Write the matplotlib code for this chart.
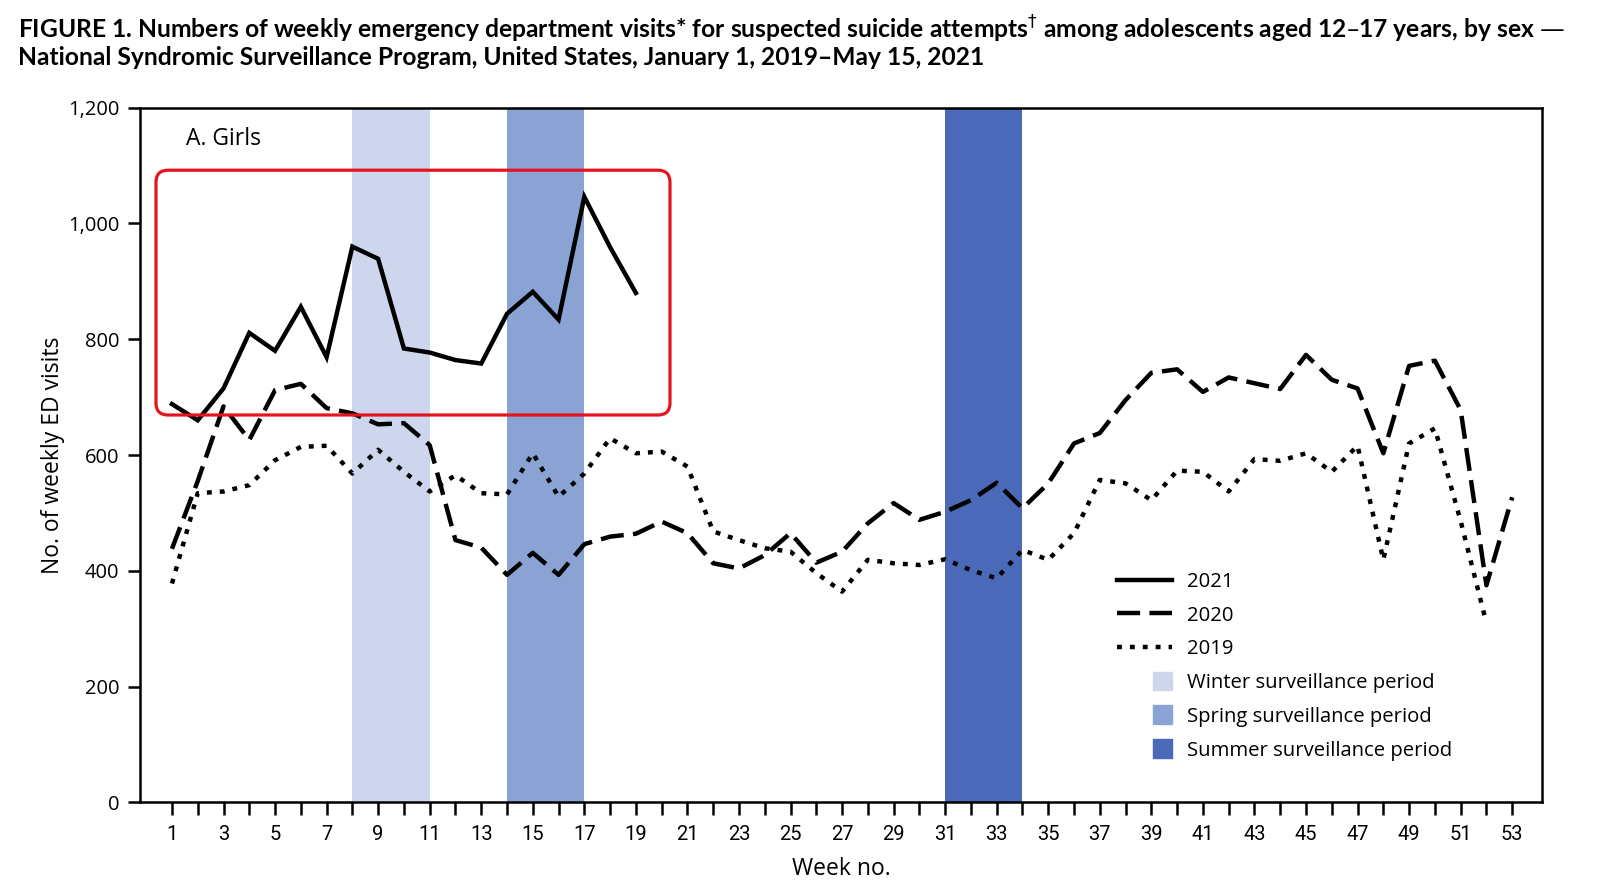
import numpy as np
import matplotlib
matplotlib.use("Agg")
import matplotlib.pyplot as plt
import matplotlib.patches as mpatches
from matplotlib.lines import Line2D
from matplotlib.legend_handler import HandlerPatch
from matplotlib.ticker import FuncFormatter

# weekly ED visits, girls 12-17
weeks_2021 = list(range(1, 20))
visits_2021 = [688, 660, 715, 811, 780, 856, 769, 960, 939, 784, 777, 764, 758,
               844, 882, 834, 1046, 959, 880]

weeks_2020 = list(range(1, 54))
visits_2020 = [438, 555, 684, 626, 712, 723, 681, 672, 653, 655, 617, 453, 440,
               393, 431, 393, 446, 459, 464, 485, 465, 413, 404, 427, 465, 414,
               433, 482, 517, 488, 502, 522, 552, 508, 551, 620, 638, 695, 742,
               748, 709, 734, 724, 714, 773, 730, 715, 603, 754, 763, 678, 375,
               527]

weeks_2019 = list(range(1, 53))
visits_2019 = [378, 534, 537, 548, 591, 614, 616, 568, 609, 571, 537, 565, 534,
               532, 603, 528, 568, 629, 603, 606, 580, 468, 453, 439, 433, 396,
               364, 419, 413, 410, 420, 401, 387, 436, 419, 465, 557, 551, 522,
               573, 571, 537, 593, 590, 603, 571, 616, 419, 620, 646, 486, 310]

period_names = ["Winter surveillance period", "Spring surveillance period",
                "Summer surveillance period"]
period_start = [8, 14, 31]
period_end = [11, 17, 34]
period_colors = ["#cdd6ed", "#8ba2d5", "#4a6ab9"]

yticks = [0, 200, 400, 600, 800, 1000, 1200]
xtick_labels = list(range(1, 54, 2))

title1 = ("FIGURE 1. Numbers of weekly emergency department visits* for suspected "
          "suicide attempts$^{\\dagger}$ among adolescents aged 12\u201317 years, by sex \u2014")
title2 = "National Syndromic Surveillance Program, United States, January 1, 2019\u2013May 15, 2021"

body_font = ["Open Sans", "DejaVu Sans"]
title_font = ["Lato", "DejaVu Sans"]
tick_font = ["Roboto", "DejaVu Sans"]


def square_patch(legend, orig_handle, xdescent, ydescent, width, height, fontsize):
    s = fontsize * 0.92
    return mpatches.Rectangle((width - xdescent - s, -ydescent + (height - s) / 2), s, s)


fig = plt.figure(figsize=(16, 8.9), dpi=100)
ax = fig.add_axes([0.0875, 0.0985, 0.8763, 0.7805])

for a, b, c in zip(period_start, period_end, period_colors):
    ax.axvspan(a, b, color=c, lw=0, zorder=1)

lw = 3.2
dash = (0, (5.2, 2.1))
dots = (0, (1.1, 1.8))
ax.plot(weeks_2021, visits_2021, color="black", lw=lw, solid_joinstyle="miter",
        label="2021", zorder=4)
ax.plot(weeks_2020, visits_2020, color="black", lw=lw, linestyle=dash,
        label="2020", zorder=3)
ax.plot(weeks_2019, visits_2019, color="black", lw=lw, linestyle=dots,
        label="2019", zorder=3)

# red highlight box around 2021
box = mpatches.FancyBboxPatch((0.0114, 0.5576), 0.3666, 0.3524,
                              boxstyle="round,pad=0,rounding_size=0.0086",
                              mutation_aspect=2.02, transform=ax.transAxes,
                              fill=False, edgecolor="#e3141e", lw=2.3, zorder=5)
ax.add_patch(box)

ax.set_xlim(-0.24, 54.16)
ax.set_ylim(0, 1200)
ax.set_xticks(range(1, 54))
ax.set_xticklabels([str(w) if w in xtick_labels else "" for w in range(1, 54)],
                   family=tick_font, fontsize=14.5)
ax.set_yticks(yticks)
ax.yaxis.set_major_formatter(FuncFormatter(lambda v, p: f"{int(v):,}"))
for t in ax.get_yticklabels():
    t.set_family(body_font)
    t.set_fontsize(14.5)
ax.tick_params(axis="x", length=9, width=1.8, pad=7)
ax.tick_params(axis="y", length=9, width=1.8, pad=6)
for sp in ax.spines.values():
    sp.set_linewidth(1.8)

ax.set_xlabel("Week no.", family=body_font, fontsize=16.5, labelpad=10)
ax.set_ylabel("No. of weekly ED visits", family=body_font, fontsize=16.5, labelpad=2)
ax.text(0.033, 0.955, "A. Girls", transform=ax.transAxes, family=body_font,
        fontsize=16.5, va="center", ha="left")

handles = [Line2D([], [], color="black", lw=lw, label="2021"),
           Line2D([], [], color="black", lw=lw, linestyle=dash, label="2020"),
           Line2D([], [], color="black", lw=lw, linestyle=dots, label="2019")]
for n, c in zip(period_names, period_colors):
    handles.append(mpatches.Patch(color=c, label=n))
ax.legend(handles=handles, loc="upper left", bbox_to_anchor=(0.697, 0.332),
          frameon=False, prop={"family": body_font, "size": 14.6},
          handlelength=2.7, handletextpad=0.74, labelspacing=0.68,
          borderpad=0, borderaxespad=0,
          handler_map={mpatches.Patch: HandlerPatch(patch_func=square_patch)})

t1 = fig.text(0.011, 0.967, title1, family=title_font, fontweight="bold",
              fontsize=16, va="center")
t2 = fig.text(0.011, 0.935, title2, family=title_font, fontweight="bold",
              fontsize=16, va="center")

# shrink/grow the title so line 1 spans the same width as the reference
fig.canvas.draw()
w = t1.get_window_extent().width
fs = 16 * 1545 / w
t1.set_fontsize(fs)
t2.set_fontsize(fs)

fig.savefig("out.png", dpi=100)
